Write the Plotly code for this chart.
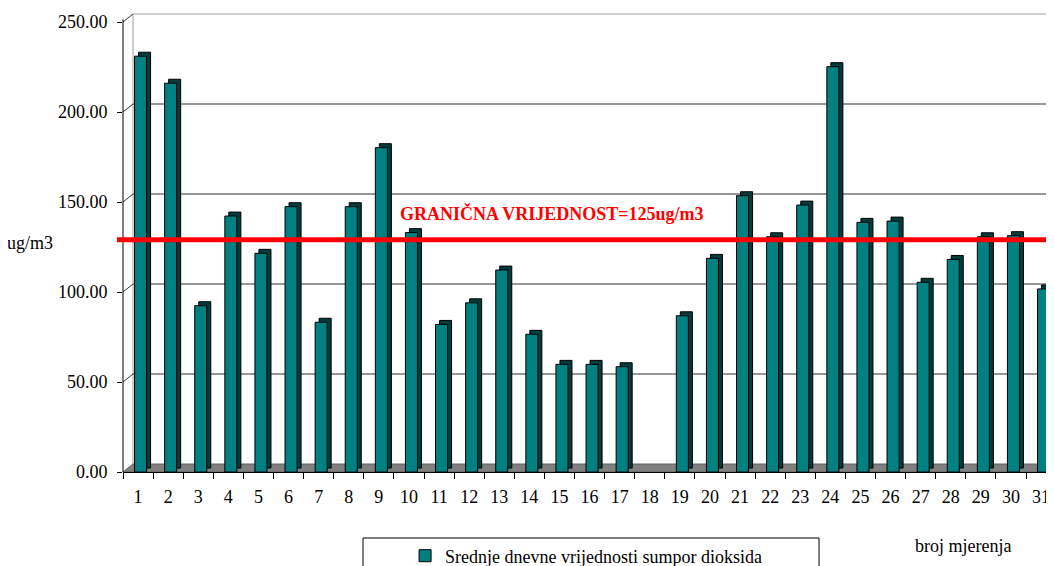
import plotly.graph_objects as go

# broj mjerenja (1..31) i srednje dnevne vrijednosti SO2 (ug/m3)
days = [str(d) for d in range(1, 32)]
so2 = [231, 216, 92.4, 142.2, 121.5, 147.4, 83.2, 147.4, 180.2, 133,
       82, 94, 112.2, 76.5, 59.8, 59.8, 58.5, None, 86.8, 118.7,
       153.5, 130.7, 148.3, 225.2, 138.7, 139.4, 105.4, 118.1, 130.7, 131.3,
       101.7]
grid_vals = [50, 100, 150, 200, 250]
y_ticks = [0, 50, 100, 150, 200, 250]
limit_label = "GRANIČNA VRIJEDNOST=125ug/m3"
limit_line = 129  # where the red line sits in the picture
series_name = "Srednje dnevne vrijednosti sumpor dioksida"

TEAL = "#008080"
SIDE = "#033c3c"
FONT = "Liberation Serif, Times New Roman, serif"
DEPTH_X = 10   # px, 3d wall offset
DEPTH_Y = 8

fig = go.Figure()

# dark "side" of the 3d column, slightly right and up
fig.add_trace(go.Bar(x=days, y=so2, base=2.2, width=0.4, offset=0.016,
                     marker=dict(color=SIDE, line=dict(color="black", width=1)),
                     showlegend=False, hoverinfo="skip"))
# front face
fig.add_trace(go.Bar(x=days, y=so2, width=0.4, offset=-0.117, name=series_name,
                     marker=dict(color=TEAL, line=dict(color="black", width=1))))

shapes = []
# floor
shapes.append(dict(type="path", xref="x", yref="y", xsizemode="pixel", ysizemode="pixel",
                   xanchor=-0.5, yanchor=0,
                   path="M0,0 L940,0 L950,%d L%d,%d Z" % (DEPTH_Y, DEPTH_X, DEPTH_Y),
                   fillcolor="#808080", line=dict(color="#606060", width=1), layer="below"))
# back wall left edge
shapes.append(dict(type="line", xref="paper", yref="y",
                   x0=DEPTH_X / 931, x1=DEPTH_X / 931, y0=4.4, y1=250 + DEPTH_Y / 1.8,
                   line=dict(color="#a0a0a0", width=1), layer="below"))
# gridlines on back wall + diagonals to the axis ticks
for v in grid_vals:
    col = "#a0a0a0" if v == 250 else "#303030"
    shapes.append(dict(type="line", xref="paper", yref="y", ysizemode="pixel",
                       x0=DEPTH_X / 931, x1=1, yanchor=v, y0=DEPTH_Y, y1=DEPTH_Y,
                       line=dict(color=col, width=1), layer="below"))
    shapes.append(dict(type="line", xref="x", yref="y", xsizemode="pixel", ysizemode="pixel",
                       xanchor=-0.5, yanchor=v, x0=0, x1=DEPTH_X, y0=0, y1=DEPTH_Y,
                       line=dict(color="#303030", width=1), layer="below"))
# front y axis line
shapes.append(dict(type="line", xref="paper", yref="y", x0=0, x1=0, y0=0, y1=251.5,
                   line=dict(color="black", width=1)))
# limit line
shapes.append(dict(type="line", xref="paper", yref="y", x0=-0.0065, x1=1,
                   y0=limit_line, y1=limit_line, line=dict(color="#ff0000", width=5)))
# legend box
shapes.append(dict(type="rect", xref="paper", yref="paper", x0=0.2578, x1=0.7476,
                   y0=-0.1438, y1=-0.25, line=dict(color="black", width=1),
                   fillcolor="rgba(0,0,0,0)"))

# page body has an 8px margin, so the figure is 8px smaller each way
fig.update_layout(
    width=1046, height=558,
    margin=dict(l=115, r=0, t=5, b=94, autoexpand=False),
    paper_bgcolor="white", plot_bgcolor="white",
    font=dict(family=FONT, size=18, color="black"),
    barmode="overlay",
    shapes=shapes,
    hovermode=False,
    showlegend=True,
    legend=dict(x=0.303, y=-0.183, xanchor="left", yanchor="middle",
                bgcolor="rgba(0,0,0,0)", font=dict(family=FONT, size=18)),
    xaxis=dict(type="category", range=[-0.5, 30.43], showgrid=False, automargin=False,
               showline=True, linecolor="black", linewidth=1,
               ticks="outside", tickson="boundaries", ticklen=6, tickcolor="black",
               ticklabelstandoff=8, fixedrange=True, tickfont=dict(family=FONT, size=18)),
    yaxis=dict(range=[0, 255], tickvals=y_ticks, tickformat=".2f", showgrid=False,
               automargin=False,
               showline=False, zeroline=False, ticks="outside", ticklen=5,
               tickcolor="black", ticklabelstandoff=6, fixedrange=True,
               tickfont=dict(family=FONT, size=18)),
    annotations=[
        dict(text=limit_label, xref="paper", yref="paper", x=0.2954, y=0.564,
             xanchor="left", yanchor="middle", showarrow=False,
             font=dict(family=FONT, size=18, color="#ff0000", weight="bold")),
        dict(text="ug/m3", xref="paper", yref="paper", x=-0.0999, y=0.499,
             xanchor="center", yanchor="middle", showarrow=False,
             font=dict(family=FONT, size=18)),
        dict(text="broj mjerenja", xref="paper", yref="paper", x=0.902, y=-0.161,
             xanchor="center", yanchor="middle", showarrow=False,
             font=dict(family=FONT, size=18)),
    ],
)

fig.write_html("out.html")
